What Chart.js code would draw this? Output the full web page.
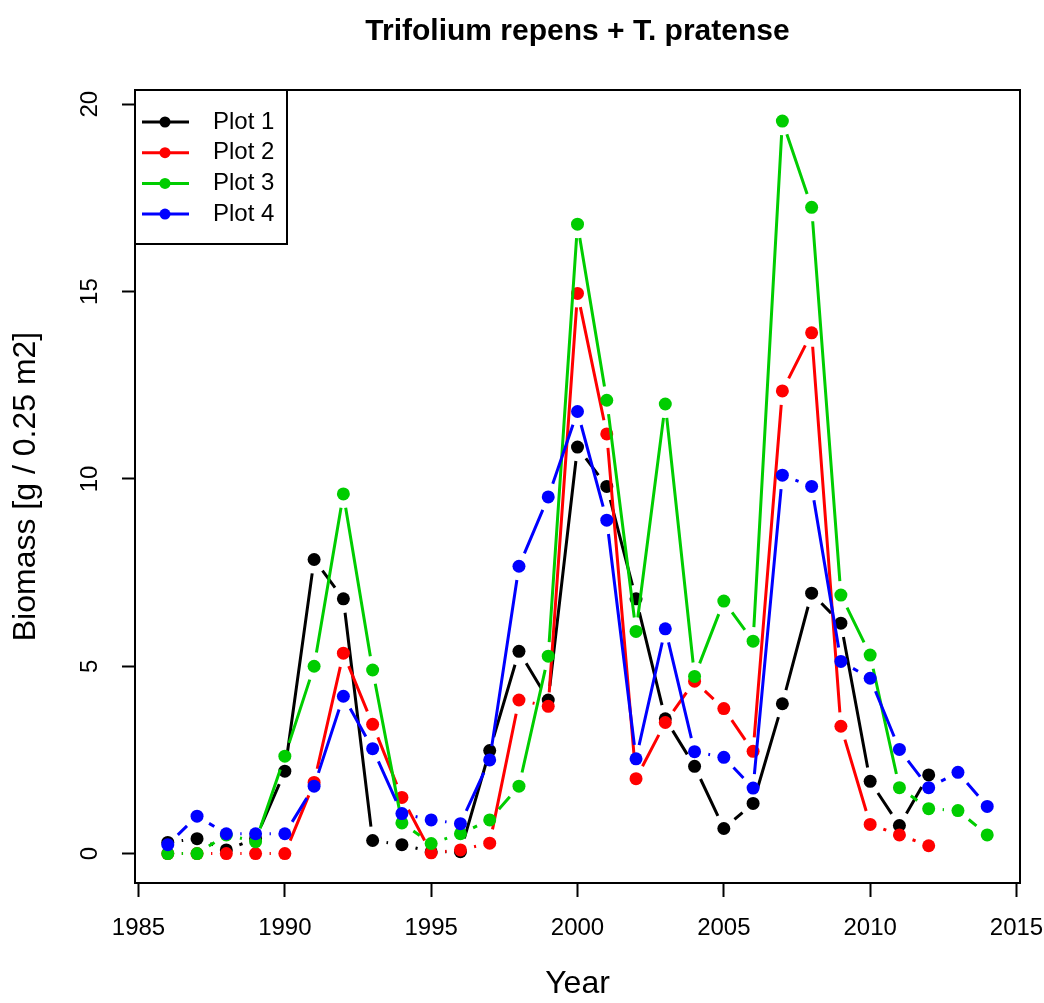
<!DOCTYPE html>
<html>
<head>
<meta charset="utf-8">
<title>Trifolium repens + T. pratense</title>
<script src="https://cdn.jsdelivr.net/npm/chart.js@4.4.1/dist/chart.umd.min.js"></script>
<style>
  html, body { margin: 0; padding: 0; background: #fff; }
  canvas { display: block; }
</style>
</head>
<body>
<canvas id="grafico_biomassa" width="1044" height="1003"></canvas>
<script>
var anos = [1986, 1987, 1988, 1989, 1990, 1991, 1992, 1993, 1994, 1995,
            1996, 1997, 1998, 1999, 2000, 2001, 2002, 2003, 2004, 2005,
            2006, 2007, 2008, 2009, 2010, 2011, 2012, 2013, 2014];

var plot1 = [0.3, 0.4, 0.1, 0.4, 2.2, 7.85, 6.8, 0.35, 0.24, 0.05,
             0.05, 2.75, 5.4, 4.1, 10.85, 9.8, 6.8, 3.6, 2.33, 0.67,
             1.34, 4.0, 6.95, 6.15, 1.93, 0.75, 2.1, null, null];
var plot2 = [0, 0, 0, 0, 0, 1.9, 5.35, 3.45, 1.5, 0.02,
             0.1, 0.28, 4.1, 3.93, 14.95, 11.2, 2.0, 3.5, 4.6, 3.87,
             2.73, 12.35, 13.9, 3.4, 0.78, 0.5, 0.21, null, null];
var plot3 = [0, 0, 0.5, 0.32, 2.6, 5.0, 9.6, 4.9, 0.82, 0.27,
             0.53, 0.9, 1.8, 5.27, 16.8, 12.1, 5.93, 12.0, 4.73, 6.74,
             5.67, 19.55, 17.25, 6.9, 5.3, 1.76, 1.2, 1.15, 0.5];
var plot4 = [0.24, 1.0, 0.53, 0.53, 0.53, 1.8, 4.2, 2.8, 1.07, 0.9,
             0.8, 2.5, 7.67, 9.52, 11.8, 8.9, 2.53, 6.0, 2.72, 2.57,
             1.75, 10.1, 9.8, 5.13, 4.68, 2.78, 1.76, 2.17, 1.26];

var nomes = ['Plot 1', 'Plot 2', 'Plot 3', 'Plot 4'];
var cores = ['#000000', '#ff0000', '#00cd00', '#0000ff'];
var xTicks = [1985, 1990, 1995, 2000, 2005, 2010, 2015];
var yTicks = [0, 5, 10, 15, 20];

var FONTE = "'Liberation Sans', Arial, sans-serif";
Chart.defaults.font.family = FONTE;
Chart.defaults.color = '#000';

var series = [plot1, plot2, plot3, plot4];

var pontos = function(valores) {
  return anos.map(function(a, i) { return { x: a, y: valores[i] }; });
};

// R type="b": segments between points, leaving a gap around each point
var linhasComGap = {
  id: 'linhasComGap',
  beforeDatasetDraw: function(chart, args) {
    var ctx = chart.ctx;
    var ds = chart.data.datasets[args.index];
    var pts = args.meta.data;
    var gap = 14;
    ctx.save();
    ctx.strokeStyle = ds.borderColor;
    ctx.lineWidth = 3;
    ctx.beginPath();
    for (var i = 0; i < pts.length - 1; i++) {
      if (ds.data[i].y == null || ds.data[i + 1].y == null) continue;
      var p = pts[i], q = pts[i + 1];
      var dx = q.x - p.x, dy = q.y - p.y;
      var len = Math.sqrt(dx * dx + dy * dy);
      if (len <= 2 * gap) continue;
      var ux = dx / len, uy = dy / len;
      ctx.moveTo(p.x + ux * gap, p.y + uy * gap);
      ctx.lineTo(q.x - ux * gap, q.y - uy * gap);
    }
    ctx.stroke();
    ctx.restore();
  }
};

var caixaELegenda = {
  id: 'caixaELegenda',
  afterDraw: function(chart) {
    var ctx = chart.ctx;
    var a = chart.chartArea;
    ctx.save();
    // box round the plot
    ctx.strokeStyle = '#000';
    ctx.lineWidth = 2;
    ctx.strokeRect(a.left, a.top, a.right - a.left, a.bottom - a.top);

    // y tick labels, rotated like R
    var ys = chart.scales.y;
    ctx.font = '24px ' + FONTE;
    ctx.fillStyle = '#000';
    ctx.textAlign = 'center';
    ctx.textBaseline = 'middle';
    ys.ticks.forEach(function(t) {
      ctx.save();
      ctx.translate(ys.right - 45, ys.getPixelForValue(t.value));
      ctx.rotate(-Math.PI / 2);
      ctx.fillText(String(t.value), 0, 0);
      ctx.restore();
    });

    // legend top left
    var lx = a.left, ly = a.top, lw = 152, lh = 154;
    ctx.fillStyle = '#fff';
    ctx.fillRect(lx, ly, lw, lh);
    ctx.strokeRect(lx, ly, lw, lh);
    ctx.textAlign = 'left';
    for (var i = 0; i < nomes.length; i++) {
      var y = ly + 32 + i * 30.7;
      ctx.strokeStyle = cores[i];
      ctx.lineWidth = 3;
      ctx.beginPath();
      ctx.moveTo(lx + 7, y);
      ctx.lineTo(lx + 54, y);
      ctx.stroke();
      ctx.fillStyle = cores[i];
      ctx.beginPath();
      ctx.arc(lx + 30, y, 5.5, 0, Math.PI * 2);
      ctx.fill();
      ctx.fillStyle = '#000';
      ctx.fillText(nomes[i], lx + 78, y);
    }
    ctx.restore();
  }
};

new Chart(document.getElementById('grafico_biomassa'), {
  type: 'line',
  data: {
    datasets: series.map(function(s, i) {
      return {
        label: nomes[i],
        data: pontos(s),
        borderColor: cores[i],
        backgroundColor: cores[i],
        pointBackgroundColor: cores[i],
        pointBorderWidth: 0,
        pointRadius: 6.5,
        pointHoverRadius: 6.5,
        showLine: false,
        order: 4 - i
      };
    })
  },
  options: {
    responsive: false,
    animation: false,
    devicePixelRatio: 1,
    layout: { padding: { top: 0, right: 24, bottom: 0, left: 0 } },
    plugins: {
      legend: { display: false },
      tooltip: { enabled: false },
      title: {
        display: true,
        text: 'Trifolium repens + T. pratense',
        fullSize: false,
        color: '#000',
        font: { size: 30, weight: 'bold' },
        padding: { top: 14, bottom: 40 }
      }
    },
    scales: {
      x: {
        type: 'linear',
        min: 1984.88,
        max: 2015.12,
        afterBuildTicks: function(scale) {
          scale.ticks = xTicks.map(function(v) { return { value: v }; });
        },
        afterFit: function(scale) {
          scale.height = 120;
          scale.paddingLeft = 0;
          scale.paddingRight = 0;
        },
        ticks: {
          font: { size: 24 },
          color: '#000',
          padding: 17,
          maxRotation: 0,
          minRotation: 0,
          autoSkip: false,
          callback: function(v) { return String(v); }
        },
        grid: {
          drawOnChartArea: false,
          drawTicks: true,
          tickLength: 14,
          tickWidth: 2,
          tickColor: '#000',
          color: '#000'
        },
        border: { display: true, color: '#000', width: 2 },
        title: {
          display: true,
          text: 'Year',
          color: '#000',
          font: { size: 32 },
          padding: { top: 0, bottom: 0 }
        }
      },
      y: {
        type: 'linear',
        min: -0.784,
        max: 20.38,
        afterBuildTicks: function(scale) {
          scale.ticks = yTicks.map(function(v) { return { value: v }; });
        },
        afterFit: function(scale) {
          scale.width = 135;
          scale.paddingTop = 0;
          scale.paddingBottom = 0;
        },
        ticks: { display: false },
        grid: {
          drawOnChartArea: false,
          drawTicks: true,
          tickLength: 13,
          tickWidth: 2,
          tickColor: '#000',
          color: '#000'
        },
        border: { display: true, color: '#000', width: 2 },
        title: {
          display: true,
          text: 'Biomass [g / 0.25 m2]',
          color: '#000',
          font: { size: 32 },
          padding: { top: 7, bottom: 0 }
        }
      }
    }
  },
  plugins: [linhasComGap, caixaELegenda]
});
</script>
</body>
</html>
